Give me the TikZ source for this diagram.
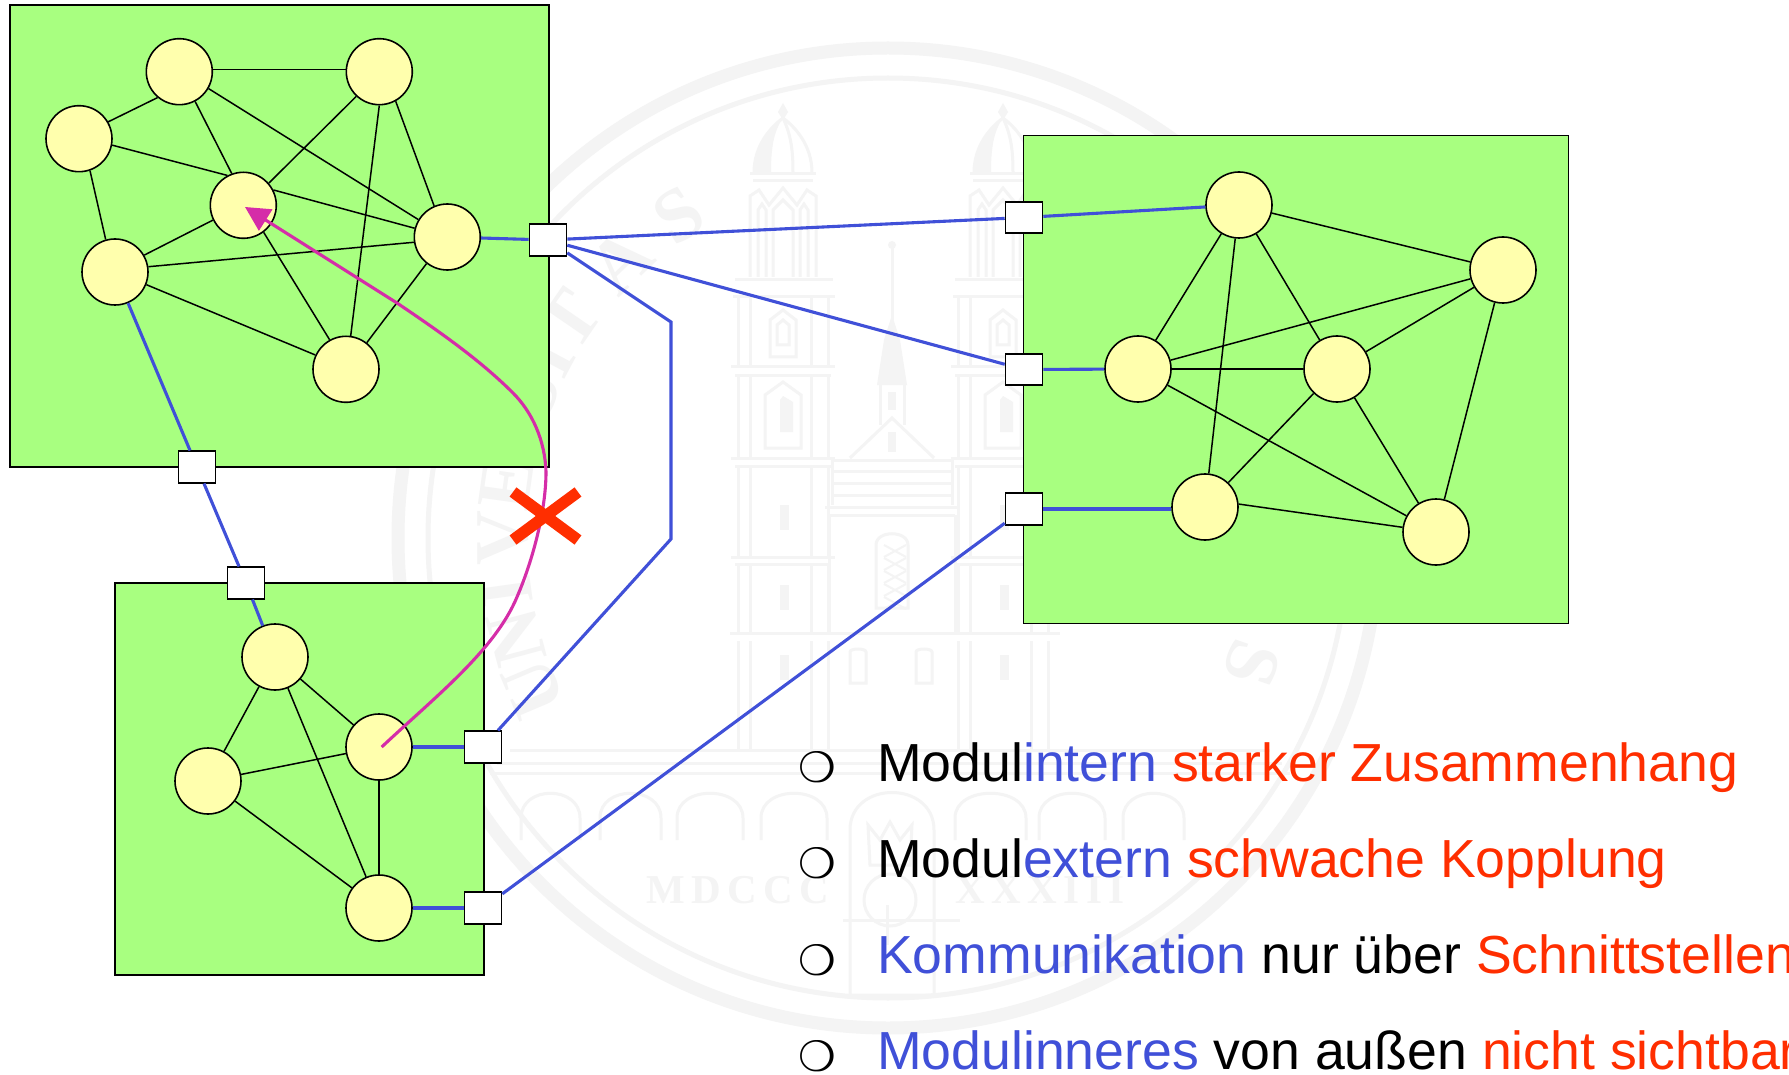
\documentclass[tikz,border=0pt]{standalone}
\usepackage{fontspec}
\setmainfont{Liberation Sans}
\newfontfamily\wmserif{Liberation Serif}
\newfontfamily\wmspaced[LetterSpace=16]{Liberation Serif}
\newfontfamily\bulletfont{DejaVu Sans}
\usetikzlibrary{arrows.meta}
\definecolor{wmgray}{HTML}{F4F4F4}
\definecolor{modgreen}{HTML}{A8FF80}
\definecolor{nodeyellow}{HTML}{FFFFAD}
\definecolor{wireblue}{HTML}{4050D8}
\definecolor{hotred}{HTML}{FF2E00}
\definecolor{magentaline}{HTML}{D52DA8}
\tikzset{
  wm/.style={draw=wmgray,line width=3pt},
  wmfill/.style={fill=wmgray},
  wmletter/.style={text=wmgray,inner sep=0pt,font=\wmserif\bfseries\fontsize{76}{76}\selectfont},
  wmyear/.style={inner sep=0pt,text=wmgray,anchor=base west,font=\wmspaced\bfseries\fontsize{41}{41}\selectfont},
  module/.style={draw=black,fill=modgreen,line width=1.8pt,inner sep=0pt},
  cnode/.style={circle,draw=black,fill=nodeyellow,line width=1.6pt,minimum size=66pt,inner sep=0pt},
  iface/.style={rectangle,draw=black,fill=white,line width=1.6pt,minimum width=37pt,minimum height=31.5pt,inner sep=0pt},
  edge/.style={draw=black,line width=1.5pt},
  wire/.style={draw=wireblue,line width=3.1pt},
  bullettext/.style={anchor=base west,inner sep=0pt,font=\fontsize{53.6}{60}\selectfont},
  bulletmark/.style={inner sep=0pt,font=\bulletfont\fontsize{42}{42}\selectfont},
}
\newcommand{\blu}[1]{{\color{wireblue}#1}}
\newcommand{\rd}[1]{{\color{hotred}#1}}
\begin{document}
\begin{tikzpicture}[x=1pt,y=-1pt]
\clip (0,0) rectangle (1789,1075);
\fill[white] (0,0) rectangle (1789,1075);
% ---- watermark seal
\draw[draw=wmgray,line width=13pt] (888,538) circle (490);
\draw[draw=wmgray,line width=5pt] (888,538) circle (460);
\foreach \l/\a in {U/-113,N/-105,I/-98,V/-90,E/-82,R/-74.5,S/-68,I/-62,T/-55.5,A/-44,S/-33,
                   T/33,V/41,R/49,I/56,C/63,E/71,N/79,S/87,I/94,S/109}{
  \node[wmletter,rotate=-\a] (wm\a) at ({888+385*sin(\a)},{538-385*cos(\a)}) {\l};
}
\foreach \tx in {783,1003}{
\begin{scope}[shift={(\tx,0)}]
  \fill[wmfill] (0,103) -- (5,112) -- (0,120) -- (-5,112) -- cycle;
  \draw[wm] (-29,173) .. controls (-29,145) and (-12,127) .. (0,118) .. controls (12,127) and (29,145) .. (29,173);
  \fill[wmfill] (-29,173) .. controls (-29,145) and (-12,127) .. (0,118) .. controls (-10,132) and (-12,150) .. (-12,173) -- cycle;
  \draw[wm] (0,118) .. controls (8,135) and (10,150) .. (10,173);
  \draw[wm] (-33,174) -- (33,174) (-30,181) -- (30,181);
  \draw[wm] (-33,277) -- (-33,196) -- (-24,190) -- (-14,205) -- (0,188) -- (14,205) -- (24,190) -- (33,196) -- (33,277);
  \draw[wm] (-25,277) -- (-25,210) -- (-21,204) -- (-17,210) -- (-17,277);
  \draw[wm] (-10,277) -- (-10,210) -- (0,200) -- (10,210) -- (10,277);
  \draw[wm] (17,277) -- (17,210) -- (21,204) -- (25,210) -- (25,277);
  \draw[wm] (-48,280) -- (50,280) (-50,297) -- (52,297);
  \draw[wm] (-45,297) -- (-45,367) (-33,297) -- (-33,367) (28,297) -- (28,367) (45,297) -- (45,367);
  \draw[wm] (-13,357) -- (-13,320) -- (0,310) -- (13,320) -- (13,357) -- cycle;
  \draw[wm] (-6,345) -- (-6,325) -- (0,320) -- (6,325) -- (6,345) -- cycle;
  \draw[wm] (-52,367) -- (52,367) (-48,375) -- (48,375);
  \draw[wm] (-45,375) -- (-45,458) (-33,375) -- (-33,458) (28,375) -- (28,458) (45,375) -- (45,458);
  \draw[wm] (-18,448) -- (-18,395) -- (0,382) -- (18,395) -- (18,448) -- cycle;
  \fill[wmfill] (-3,432) -- (-3,400) -- (0,396) -- (10,402) -- (10,432) -- cycle;
  \draw[wm] (-52,458) -- (52,458) (-48,466) -- (48,466);
  \draw[wm] (-45,466) -- (-45,557) (-33,466) -- (-33,557) (28,466) -- (28,557) (45,466) -- (45,557);
  \fill[wmfill] (-3,505) rectangle (6,530);
  \draw[wm] (-52,557) -- (52,557) (-48,564) -- (48,564);
  \draw[wm] (-45,564) -- (-45,633) (-33,564) -- (-33,633) (28,564) -- (28,633) (45,564) -- (45,633);
  \fill[wmfill] (-3,585) rectangle (6,610);
  \draw[wm] (-45,641) -- (-45,750) (-33,641) -- (-33,750) (28,641) -- (28,750) (45,641) -- (45,750);
  \fill[wmfill] (-3,655) rectangle (6,680);
\end{scope}}
% spire and nave
\fill[wmfill] (892,245) circle (4);
\draw[wm] (892,248) -- (892,320);
\fill[wmfill] (892,315) -- (900,340) -- (907,385) -- (877,385) -- (884,340) -- cycle;
\draw[wm] (880,385) -- (880,425) (904,385) -- (904,425);
\fill[wmfill] (888,392) rectangle (896,410);
\fill[wmfill] (888,432) rectangle (896,452);
\draw[wm] (850,458) -- (892,418) -- (934,458);
\draw[wm] (832,460) -- (952,460) (832,471) -- (952,471) (832,483) -- (952,483) (832,495) -- (952,495) (825,507) -- (960,507) (830,515) -- (955,515);
\draw[wm] (832,460) -- (832,505) (952,460) -- (952,505);
\draw[wm] (829,515) -- (829,633) (955,515) -- (955,633);
\draw[wm] (876,608) -- (876,545) .. controls (876,530) and (908,530) .. (908,545) -- (908,608) -- cycle;
\foreach \hy in {545,558,...,597}{
  \draw[draw=wmgray,line width=2pt] (884,\hy) -- (906,\hy+12) (906,\hy) -- (884,\hy+12);
}
\draw[wm] (730,633) -- (1060,633);
\draw[wm] (850,683) -- (850,652) .. controls (850,648) and (866,648) .. (866,652) -- (866,683) -- cycle;
\draw[wm] (916,683) -- (916,652) .. controls (916,648) and (932,648) .. (932,652) -- (932,683) -- cycle;
\draw[wm] (510,750) -- (1270,750) (497,763) -- (1282,763) (490,773) -- (1290,773);
\foreach \ax/\aw in {521/59,600/61,677/66,761/66,955/71,1039/66,1123/61}{
  \draw[wm] (\ax,840) -- (\ax,818) .. controls (\ax,785) and (\ax+\aw,785) .. (\ax+\aw,818) -- (\ax+\aw,840);
}
% lion shield
\draw[wm] (850,995) -- (850,830) .. controls (850,780) and (934,780) .. (934,830) -- (934,995) -- cycle;
\draw[wm] (870,865) -- (868,825) -- (880,840) -- (890,822) -- (900,840) -- (912,825) -- (910,865) -- cycle;
\draw[wm] (890,900) circle (26);
\draw[wm] (843,920) -- (960,920);
\draw[wm] (887,905) -- (887,945);
\node[wmyear] (wmyeara) at (646,903) {MDCCC};
\node[wmyear] (wmyearb) at (955,903) {XXXIII};
% ---- modules
\node[module,minimum width=539pt,minimum height=462pt] (modA) at (279.5,236) {};
\node[module,minimum width=545pt,minimum height=488pt] (modB) at (1296,379.5) {};
\node[module,minimum width=369pt,minimum height=392pt] (modC) at (299.5,779) {};
% ---- component nodes
\node[cnode] (a1) at (179.3,71.7) {};
\node[cnode] (a2) at (379.3,71.7) {};
\node[cnode] (a3) at (79,138.7) {};
\node[cnode] (a4) at (243.3,205.3) {};
\node[cnode] (a5) at (447.3,237) {};
\node[cnode] (a6) at (115,272) {};
\node[cnode] (a7) at (346,369.3) {};
\node[cnode] (b1) at (1239,205) {};
\node[cnode] (b2) at (1503,270) {};
\node[cnode] (b3) at (1138,369) {};
\node[cnode] (b4) at (1337,369) {};
\node[cnode] (b5) at (1205,507) {};
\node[cnode] (b6) at (1436,532) {};
\node[cnode] (c1) at (275,657) {};
\node[cnode] (c2) at (379,747) {};
\node[cnode] (c3) at (208,781) {};
\node[cnode] (c4) at (379,908) {};
% ---- interfaces
\node[iface] (pA1) at (548,240) {};
\node[iface] (pA2) at (197,467) {};
\node[iface] (pC1) at (246,583) {};
\node[iface] (pC2) at (483,747) {};
\node[iface] (pC3) at (483,908) {};
\node[iface] (pB1) at (1024,217.5) {};
\node[iface] (pB2) at (1024,369.5) {};
\node[iface] (pB3) at (1024,509) {};
% ---- inner edges, module A (anchors as printed)
\draw[edge] (a1.4) -- (a2.176);
\draw[edge] (a1.230.5) -- (a3.30);
\draw[edge] (a1.298) -- (a4.110);
\draw[edge] (a1.330) -- (a5.149);
\draw[edge] (a2.227) -- (a4.41.5);
\draw[edge] (a2.270) -- (a7.82);
\draw[edge] (a2.299) -- (a5.113);
\draw[edge] (a3.349) -- (a4.118.6);
\draw[edge] (a3.289) -- (a6.106);
\draw[edge] (a4.27) -- (a5.165);
\draw[edge] (a4.206.6) -- (a6.30.5);
\draw[edge] (a4.307.5) -- (a7.119.5);
\draw[edge] (a5.189) -- (a6.9);
\draw[edge] (a5.232) -- (a7.52);
\draw[edge] (a6.338) -- (a7.155);
% ---- inner edges, modules B and C
\foreach \s/\t in {b1/b2,b1/b3,b1/b4,b1/b5,b2/b3,b2/b4,b2/b6,b3/b4,b3/b6,b4/b5,b4/b6,
                   c1/c2,c1/c3,c1/c4,c2/c3,c2/c4,c3/c4}{
  \draw[edge] (\s) -- (\t);
}
\draw[edge] (b5.5) -- (b6.172);
% ---- wires
\coordinate (bendU) at (671,322);
\coordinate (bendL) at (671,539);
\draw[wire] (a5) -- (pA1);
\draw[wire] (a6) -- (pA2);
\draw[wire] (pA2) -- (pC1);
\draw[wire] (pC1) -- (c1);
\draw[wire] (c2) -- (pC2);
\draw[wire] (c4) -- (pC3);
\draw[wire] (pB1) -- (b1);
\draw[wire] (pB2) -- (b3);
\draw[wire] (pB3.east) -- (pB3.east -| b5.west);
\draw[wire] (pA1) -- (pB1);
\draw[wire] (pA1) -- (pB2);
\draw[wire,line join=miter] (pA1) -- (bendU) -- (bendL) -- (pC2);
\draw[wire] (pC3) -- (pB3);
% ---- forbidden access
\coordinate (tipA) at (245,207);
\coordinate (startC) at (381.7,747);
\draw[draw=magentaline,line width=3.1pt,-{Triangle[length=24.5pt,width=24.7pt,fill=magentaline]}]
  (startC) .. controls (435,697) and (495,650) .. (517,597)
  .. controls (533,560) and (546,510) .. (546,472)
  .. controls (545,440) and (532,412) .. (513,393)
  .. controls (480,360) and (440,332) .. (397,303)
  -- (tipA);
\coordinate (xa) at (513,492); \coordinate (xb) at (578,540);
\coordinate (xc) at (578,492); \coordinate (xd) at (513,540);
\draw[draw=hotred,line width=11.5pt] (xa) -- (xb);
\draw[draw=hotred,line width=11.5pt] (xc) -- (xd);
% ---- bullets
\node[bulletmark] (m1) at (817,767) {❍};
\node[bulletmark] (m2) at (817,863) {❍};
\node[bulletmark] (m3) at (817,960) {❍};
\node[bulletmark] (m4) at (817,1056) {❍};
\node[bullettext] (t1) at (877,781) {Modul\blu{intern} \rd{starker Zusammenhang}};
\node[bullettext] (t2) at (877,877) {Modul\blu{extern} \rd{schwache Kopplung}};
\node[bullettext] (t3) at (877,973.5) {\blu{Kommunikation} nur über \rd{Schnittstellen}};
\node[bullettext] (t4) at (877,1069.5) {\blu{Modulinneres} von außen \rd{nicht sichtbar}};
\end{tikzpicture}
\end{document}
